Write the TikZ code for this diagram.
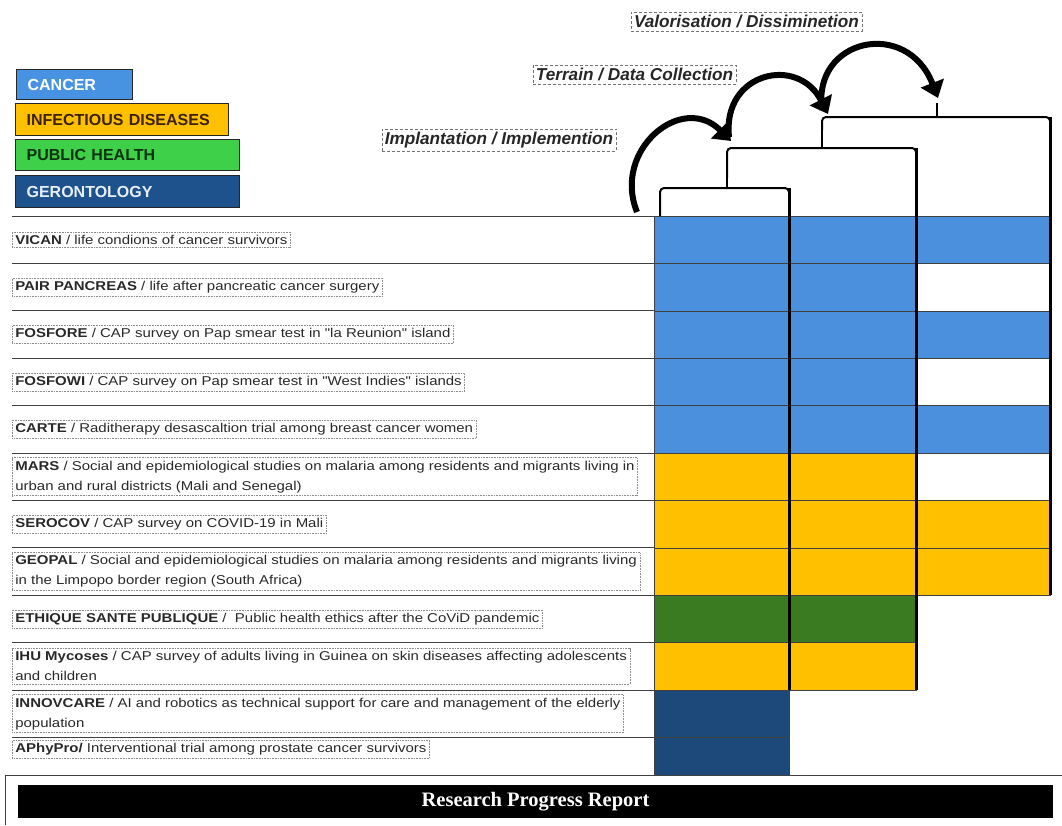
\documentclass[tikz,border=0pt]{standalone}
\usepackage{fontspec}
\setmainfont{Liberation Sans}
\newfontfamily\rowfont[FakeStretch=1.17]{Liberation Sans}
\newfontfamily\titlefont{Liberation Serif}
\usetikzlibrary{arrows.meta}
\definecolor{cblue}{RGB}{74,144,220}
\definecolor{cyel}{RGB}{255,192,0}
\definecolor{cgreen}{RGB}{58,122,32}
\definecolor{cdark}{RGB}{28,72,122}
\definecolor{lgreen}{RGB}{62,208,72}
\definecolor{lblue}{RGB}{72,146,226}
\definecolor{ldark}{RGB}{30,82,140}
\definecolor{txt}{RGB}{40,40,40}
\begin{document}
\begin{tikzpicture}[x=1pt,y=-1pt,
  legbox/.style={draw=black!85, line width=1.2pt, anchor=north west, inner xsep=11pt, inner ysep=0pt, align=left, font=\bfseries\fontsize{16}{18}\selectfont},
  phase/.style={draw=black!55, densely dashed, line width=0.6pt, inner sep=3pt, font=\bfseries\itshape\fontsize{17.2}{20}\selectfont, text=black!85},
  rowtxt/.style={draw=black!45, densely dotted, line width=0.6pt, anchor=west, inner xsep=3pt, inner ysep=3pt, align=left, text=txt, font=\rowfont\fontsize{12.8}{20}\selectfont},
  cell/.style={draw=black!75, line width=0.6pt},
  rowline/.style={draw=black!75, line width=0.9pt},
  colbar/.style={line width=3pt, black},
  brk/.style={line width=2pt, black, rounded corners=4pt},
  arr/.style={line width=6pt, black, -{Triangle[length=16pt,width=24pt]}}
]
\useasboundingbox (0,0) rectangle (1062,825);

% legend
\node[legbox, fill=lblue, text=white, text width=94pt, minimum height=30pt] (lcancer) at (16,69) {CANCER};
\node[legbox, fill=cyel, text={rgb,255:red,60;green,34;blue,0}, text width=191pt, minimum height=32pt] (linf) at (15,103) {INFECTIOUS DISEASES};
\node[legbox, fill=lgreen, text={rgb,255:red,10;green,50;blue,14}, text width=202pt, minimum height=31pt] (lpub) at (15,139) {PUBLIC HEALTH};
\node[legbox, fill=ldark, text={rgb,255:red,232;green,238;blue,248}, text width=202pt, minimum height=32pt] (lger) at (15,175) {GERONTOLOGY};

% phase labels
\node[phase] (pimp) at (499,140) {Implantation / Implemention};
\node[phase] (pter) at (634.5,74.5) {Terrain / Data Collection};
\node[phase] (pval) at (746.5,21.5) {Valorisation / Dissiminetion};

% row lines (text area)
\foreach \i in {0,...,11}
  \draw[rowline] (12,{216+47.4*\i}) -- (654,{216+47.4*\i});

% column 1
\foreach[count=\i] \col in {cblue,cblue,cblue,cblue,cblue,cyel,cyel,cyel,cgreen,cyel,cdark}
  \draw[cell, fill=\col] (654,{216+47.4*(\i-1)}) rectangle (789,{216+47.4*\i});
\draw[cell, fill=cdark] (654,737.4) rectangle (789,775);
% column 2
\foreach[count=\i] \col in {cblue,cblue,cblue,cblue,cblue,cyel,cyel,cyel,cgreen,cyel}
  \draw[cell, fill=\col] (789,{216+47.4*(\i-1)}) rectangle (916,{216+47.4*\i});
% column 3
\foreach[count=\i] \col in {cblue,white,cblue,white,cblue,white,cyel,cyel}
  \draw[cell, fill=\col] (916,{216+47.4*(\i-1)}) rectangle (1050,{216+47.4*\i});

% thick column bars
\draw[colbar] (789,188) -- (789,690);
\draw[colbar] (916,148) -- (916,690);
\draw[colbar] (1050,117) -- (1050,595.2);

% brackets
\draw[brk] (660,216) |- (727,188) -| (789,200);
\draw[brk] (727,188) -- (727,178);
\draw[brk] (727,178) |- (822,148) -| (916,160);
\draw[brk] (822,148) -- (822,130);
\draw[brk] (822,130) |- (937,117) -| (1050,130);
\draw[brk] (937,117) -- (937,103);

% arrows
\coordinate (a1s) at (637,212);
\coordinate (a1e) at (731,141);
\coordinate (a2s) at (729,137);
\coordinate (a2e) at (828,114);
\coordinate (a3s) at (822,110);
\coordinate (a3e) at (938,98);
\draw[arr] (a1s) .. controls (612,150) and (682,92) .. (a1e);
\draw[arr] (a2s) .. controls (722,72) and (798,55) .. (a2e);
\draw[arr] (a3s) .. controls (812,38) and (907,18) .. (a3e);

% row texts
\node[rowtxt] (r1) at (12,239.7) {\textbf{VICAN} / life condions of cancer survivors};
\node[rowtxt] (r2) at (12,287.1) {\textbf{PAIR PANCREAS} / life after pancreatic cancer surgery};
\node[rowtxt] (r3) at (12,334.5) {\textbf{FOSFORE} / CAP survey on Pap smear test in "la Reunion" island};
\node[rowtxt] (r4) at (12,381.9) {\textbf{FOSFOWI} / CAP survey on Pap smear test in "West Indies" islands};
\node[rowtxt] (r5) at (12,429.3) {\textbf{CARTE} / Raditherapy desascaltion trial among breast cancer women};
\node[rowtxt] (r6) at (12,476.7) {\textbf{MARS} / Social and epidemiological studies on malaria among residents and migrants living in\\urban and rural districts (Mali and Senegal)};
\node[rowtxt] (r7) at (12,524.1) {\textbf{SEROCOV} / CAP survey on COVID-19 in Mali};
\node[rowtxt] (r8) at (12,571.5) {\textbf{GEOPAL} / Social and epidemiological studies on malaria among residents and migrants living\\in the Limpopo border region (South Africa)};
\node[rowtxt] (r9) at (12,618.9) {\textbf{ETHIQUE SANTE PUBLIQUE} / \ Public health ethics after the CoViD pandemic};
\node[rowtxt] (r10) at (12,666.3) {\textbf{IHU Mycoses} / CAP survey of adults living in Guinea on skin diseases affecting adolescents\\and children};
\node[rowtxt] (r11) at (12,713.7) {\textbf{INNOVCARE} / AI and robotics as technical support for care and management of the elderly\\population};
\node[rowtxt] (r12) at (12,749) {\textbf{APhyPro/} Interventional trial among prostate cancer survivors};

% footer
\draw[line width=1pt, black!75] (5,825) -- (5,775) -- (1062,775);
\node[fill=black, text=white, minimum width=1035pt, minimum height=33pt, inner sep=0pt, font=\titlefont\bfseries\fontsize{20.5}{24}\selectfont] (title) at (535.5,801.5) {Research Progress Report};
\end{tikzpicture}
\end{document}
